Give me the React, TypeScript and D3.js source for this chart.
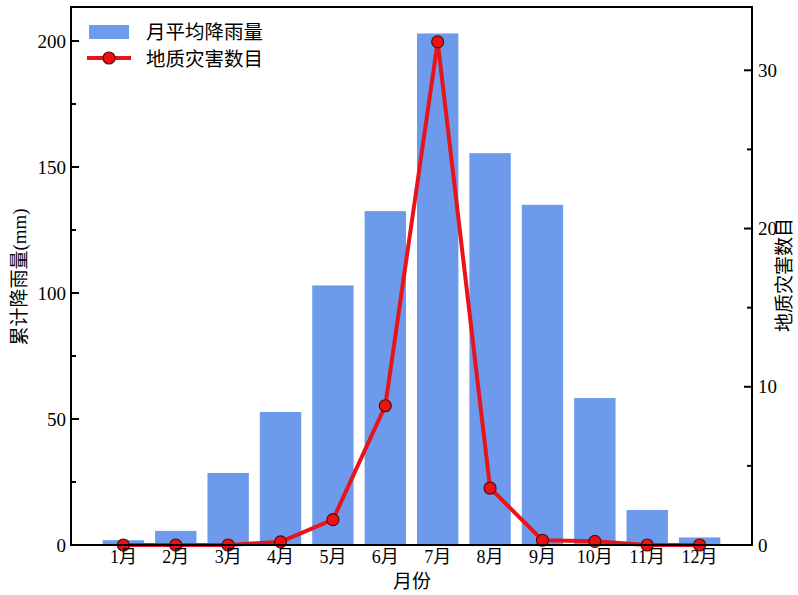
import * as d3 from 'd3';
import React from 'react';

const months = ['1月', '2月', '3月', '4月', '5月', '6月', '7月', '8月', '9月', '10月', '11月', '12月'];
const rainfall = [1.9, 5.6, 28.6, 52.8, 103, 132.5, 203, 155.5, 135, 58.3, 13.9, 3];
const hazards = [0, 0, 0, 0.2, 1.6, 8.8, 31.8, 3.6, 0.3, 0.23, 0, 0];
const leftTicks = [0, 50, 100, 150, 200];
const leftMinor = [25, 75, 125, 175];
const rightTicks = [0, 10, 20, 30];
const rightMinor = [5, 15, 25];

const serif = '"Liberation Serif", "Times New Roman", "Noto Sans CJK SC", serif';
const cjk = '"Noto Sans CJK SC", serif';

export default function App() {
  const left = 71;
  const right = 752;
  const top = 7;
  const bottom = 545;

  const x = d3.scaleLinear().domain([0, 13]).range([left, right]);
  const yL = d3.scaleLinear().domain([0, 213.5]).range([bottom, top]);
  const yR = d3.scaleLinear().domain([0, 34]).range([bottom, top]);
  const barW = (x(1) - x(0)) * 0.79;

  const line = d3
    .line<number>()
    .x((_, i) => x(i + 1))
    .y((d) => yR(d));

  return (
    <svg width={798} height={595} style={{ position: 'absolute', left: 0, top: 0, background: 'white' }}>
      <g>
        {rainfall.map((v, i) => (
          <rect key={i} x={x(i + 1) - barW / 2} y={yL(v)} width={barW} height={bottom - yL(v)} fill='#6d9aeb' />
        ))}
      </g>
      <path d={line(hazards) ?? ''} fill='none' stroke='#e8141c' strokeWidth={4} strokeLinejoin='round' />
      {hazards.map((v, i) => (
        <circle key={i} cx={x(i + 1)} cy={yR(v)} r={6} fill='#ee1111' stroke='#5a0a0a' strokeWidth={1.2} />
      ))}

      <rect x={left} y={top} width={right - left} height={bottom - top} fill='none' stroke='black' strokeWidth={2} />

      {leftTicks.map((t) => (
        <g key={t}>
          <line x1={left} x2={left + 8} y1={yL(t)} y2={yL(t)} stroke='black' strokeWidth={2} />
          <text x={left - 5} y={yL(t)} dy='0.35em' textAnchor='end' fontFamily={serif} fontSize={19}>
            {t}
          </text>
        </g>
      ))}
      {leftMinor.map((t) => (
        <line key={t} x1={left} x2={left + 5} y1={yL(t)} y2={yL(t)} stroke='black' strokeWidth={2} />
      ))}
      {rightTicks.map((t) => (
        <g key={t}>
          <line x1={right} x2={right - 8} y1={yR(t)} y2={yR(t)} stroke='black' strokeWidth={2} />
          <text x={right + 6} y={yR(t)} dy='0.35em' textAnchor='start' fontFamily={serif} fontSize={19}>
            {t}
          </text>
        </g>
      ))}
      {rightMinor.map((t) => (
        <line key={t} x1={right} x2={right - 5} y1={yR(t)} y2={yR(t)} stroke='black' strokeWidth={2} />
      ))}
      {months.map((m, i) => (
        <text key={m} x={x(i + 1)} y={563} textAnchor='middle' fontFamily={serif} fontSize={18}>
          {m}
        </text>
      ))}

      <text x={412} y={588} textAnchor='middle' fontFamily={cjk} fontSize={19}>
        月份
      </text>
      <text transform='translate(26,277) rotate(-90)' textAnchor='middle' fontFamily={serif} fontSize={19}>
        累计降雨量(mm)
      </text>
      <text transform='translate(791,275) rotate(-90)' textAnchor='middle' fontFamily={cjk} fontSize={19}>
        地质灾害数目
      </text>

      <g>
        <rect x={89} y={25} width={40} height={14} fill='#6d9aeb' />
        <text x={146} y={32} dy='0.35em' fontFamily={cjk} fontSize={19.5}>
          月平均降雨量
        </text>
        <line x1={87} x2={131} y1={58} y2={58} stroke='#e8141c' strokeWidth={4} />
        <circle cx={109} cy={58} r={6} fill='#ee1111' stroke='#5a0a0a' strokeWidth={1.2} />
        <text x={146} y={59} dy='0.35em' fontFamily={cjk} fontSize={19.5}>
          地质灾害数目
        </text>
      </g>
    </svg>
  );
}
